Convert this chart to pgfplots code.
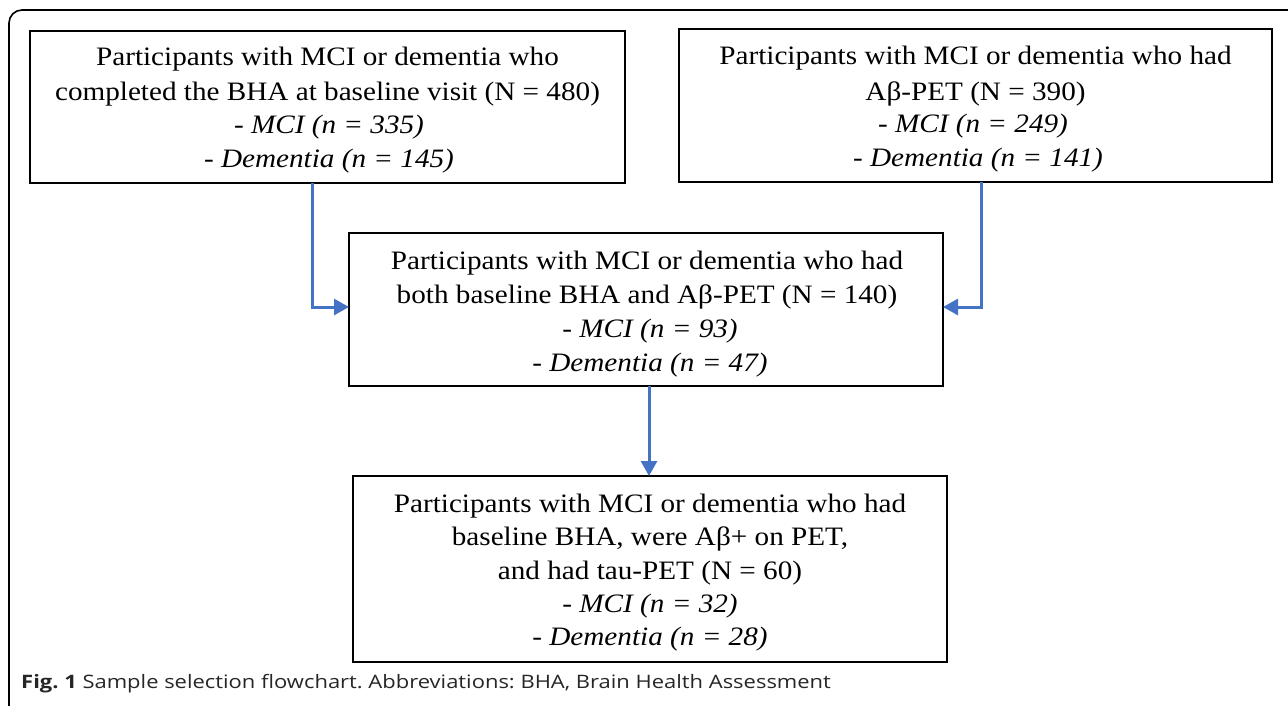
\documentclass[border=0pt]{standalone}
\usepackage{fontspec}
\setmainfont{Liberation Serif}
\newfontfamily\boxfont[FakeStretch=1.097]{Liberation Serif}
\newfontfamily\capfont[FakeStretch=1.185]{Open Sans}
\usepackage{pgfplots}
\pgfplotsset{compat=1.18}
\usetikzlibrary{arrows.meta}
\definecolor{arrowblue}{HTML}{4472C4}
\frenchspacing
\newcommand{\tline}[3]{\node[anchor=base, inner sep=0pt, font=\boxfont\fontsize{26.7}{34}\selectfont] at (axis cs:#1,#2) {#3};}
\begin{document}
\begin{tikzpicture}
\path[use as bounding box] (0,0) rectangle (1288bp,706bp);
\begin{axis}[at={(0,0)}, anchor=south west, width=1288bp, height=706bp, scale only axis,
  xmin=0, xmax=1288, ymin=0, ymax=706, y dir=reverse, hide axis, clip=false]
% outer frame
\draw[line width=1.6bp, black, rounded corners=13bp] (axis cs:9,740) -- (axis cs:9,10) -- (axis cs:1320,10);
% boxes
\draw[line width=2bp, black] (axis cs:30,31) rectangle (axis cs:625,183);
\draw[line width=2bp, black] (axis cs:679,29) rectangle (axis cs:1272,182);
\draw[line width=2bp, black] (axis cs:349,233) rectangle (axis cs:943,386);
\draw[line width=2bp, black] (axis cs:353,476) rectangle (axis cs:947,662);
% arrows
\draw[line width=3bp, arrowblue, -{Triangle[length=15bp,width=16bp]}] (axis cs:312,183) -- (axis cs:312,307) -- (axis cs:349,307);
\draw[line width=3bp, arrowblue, -{Triangle[length=15bp,width=16bp]}] (axis cs:981,182) -- (axis cs:981,307) -- (axis cs:943,307);
\draw[line width=3bp, arrowblue, -{Triangle[length=15bp,width=16bp]}] (axis cs:649,386) -- (axis cs:649,476);
% box 1
\tline{327.5}{66}{Participants with MCI or dementia who}
\tline{327.5}{100}{completed the BHA at baseline visit (N = 480)}
\tline{329}{133}{- \textit{MCI (n = 335)}}
\tline{329}{167}{- \textit{Dementia (n = 145)}}
% box 2
\tline{975.5}{65}{Participants with MCI or dementia who had}
\tline{975.5}{100}{Aβ-PET (N = 390)}
\tline{973}{132}{- \textit{MCI (n = 249)}}
\tline{978}{166}{- \textit{Dementia (n = 141)}}
% box 3
\tline{647}{269}{Participants with MCI or dementia who had}
\tline{647}{303}{both baseline BHA and Aβ-PET (N = 140)}
\tline{650}{337}{- \textit{MCI (n = 93)}}
\tline{650}{371}{- \textit{Dementia (n = 47)}}
% box 4
\tline{650}{512}{Participants with MCI or dementia who had}
\tline{650}{545}{baseline BHA, were Aβ+ on PET,}
\tline{650}{579}{and had tau-PET (N = 60)}
\tline{650}{612}{- \textit{MCI (n = 32)}}
\tline{650}{645}{- \textit{Dementia (n = 28)}}
% caption
\node[anchor=base west, inner sep=0pt, text=black!85, font=\capfont\fontsize{18.6}{22}\selectfont] at (axis cs:21,688) {\textbf{Fig. 1} Sample selection flowchart. Abbreviations: BHA, Brain Health Assessment};
\end{axis}
\end{tikzpicture}
\end{document}
